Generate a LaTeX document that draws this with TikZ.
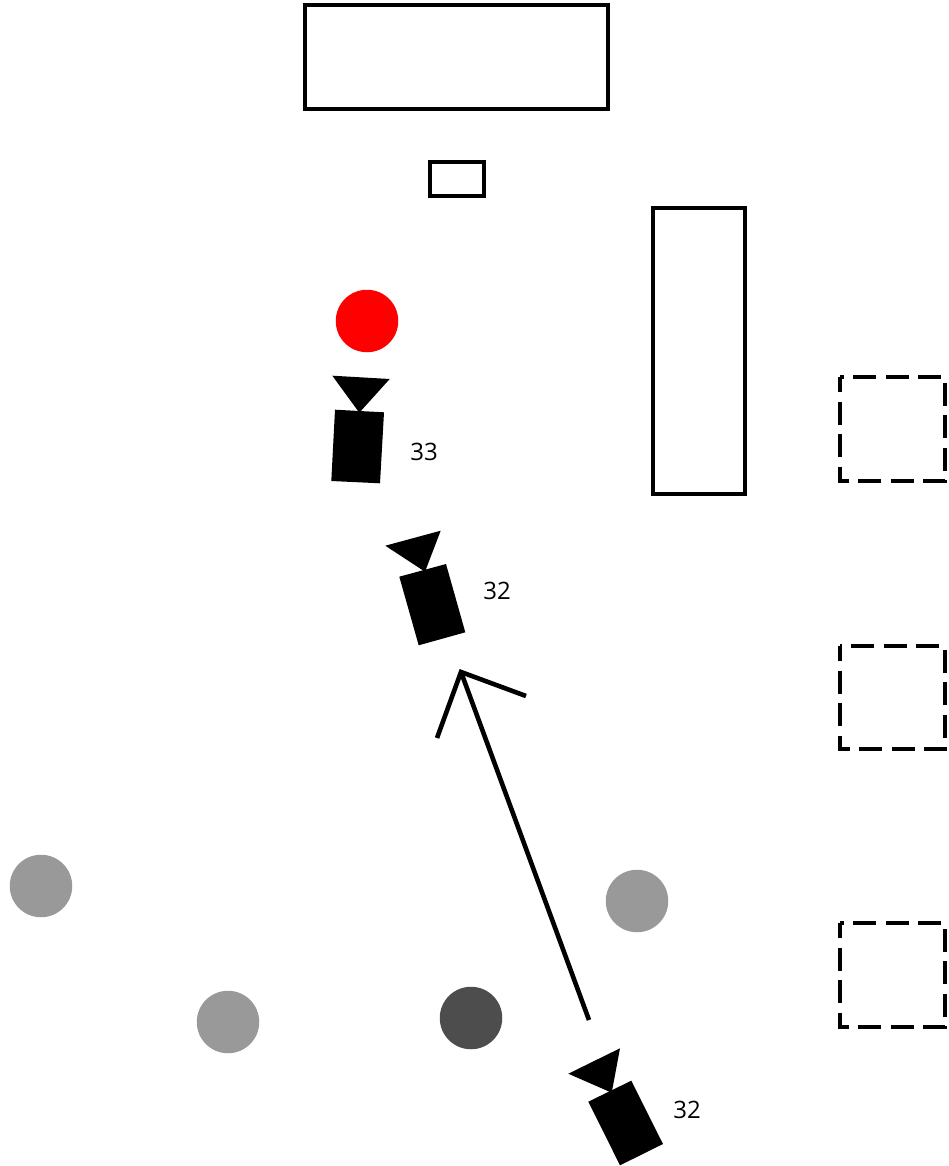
\documentclass[tikz,border=0pt]{standalone}
\usepackage{fontspec}
\setmainfont{Open Sans}
\tikzset{
  outline/.style={draw=black,line width=4.6pt,fill=none,miter limit=10},
  dashbox/.style={draw=black,line width=4.6pt,fill=none,dash pattern=on 23pt off 9.5pt,dash phase=8pt},
  disc/.style={circle,minimum size=62.5pt,inner sep=0pt,draw=none},
  cam/.style={fill=black,draw=none},
  lab/.style={font=\fontsize{24}{28}\selectfont,text=black,inner sep=0pt},
  arrowline/.style={draw=black,line width=4.6pt}
}
\definecolor{lightdisc}{HTML}{999999}
\definecolor{darkdisc}{HTML}{4D4D4D}
\begin{document}
\begin{tikzpicture}[x=1pt,y=-1pt]
\useasboundingbox (0,0) rectangle (949,1166);
% solid rectangles
\draw[outline] (305,5) rectangle (608,109);
\draw[outline] (430,162) rectangle (484,196);
\draw[outline] (653,208) rectangle (745,494);
% dashed squares
\draw[dashbox] (840,377) rectangle (945,481);
\draw[dashbox] (840,646) rectangle (945,749);
\draw[dashbox] (840,923) rectangle (945,1027);
% discs
\node[disc,fill=red] (red) at (367,321) {};
\node[disc,fill=lightdisc] (g1) at (41,886) {};
\node[disc,fill=lightdisc] (g2) at (228,1022) {};
\node[disc,fill=lightdisc] (g3) at (637,901) {};
\node[disc,fill=darkdisc] (d1) at (471,1018) {};
% camera 33
\fill[cam] (332.3,375.7) -- (389.7,379) -- (359.3,412.7) -- cycle;
\fill[cam] (335,409.7) -- (384,412.3) -- (380,483.3) -- (331.3,481) -- cycle;
% camera 32 middle
\fill[cam] (385.3,545.7) -- (440.7,530.7) -- (425,571.7) -- cycle;
\fill[cam] (399.3,576.7) -- (446,564) -- (465.3,632.3) -- (418.7,645.3) -- cycle;
% camera 32 bottom
\fill[cam] (568.3,1073.7) -- (620,1048.3) -- (611.7,1092.7) -- cycle;
\fill[cam] (588.3,1101.7) -- (631.3,1080.7) -- (663,1144) -- (620,1165.3) -- cycle;
% arrow
\coordinate (start) at (589,1020);
\coordinate (tip) at (461,672);
\coordinate (barbL) at (437,738);
\coordinate (barbR) at (526,696);
\draw[arrowline] (start) -- (tip);
\draw[arrowline,miter limit=10] (barbL) -- (tip) -- (barbR);
% labels
\node[lab] (l33) at (424,452) {33};
\node[lab] (l32a) at (497,591) {32};
\node[lab] (l32b) at (687,1110) {32};
\end{tikzpicture}
\end{document}
